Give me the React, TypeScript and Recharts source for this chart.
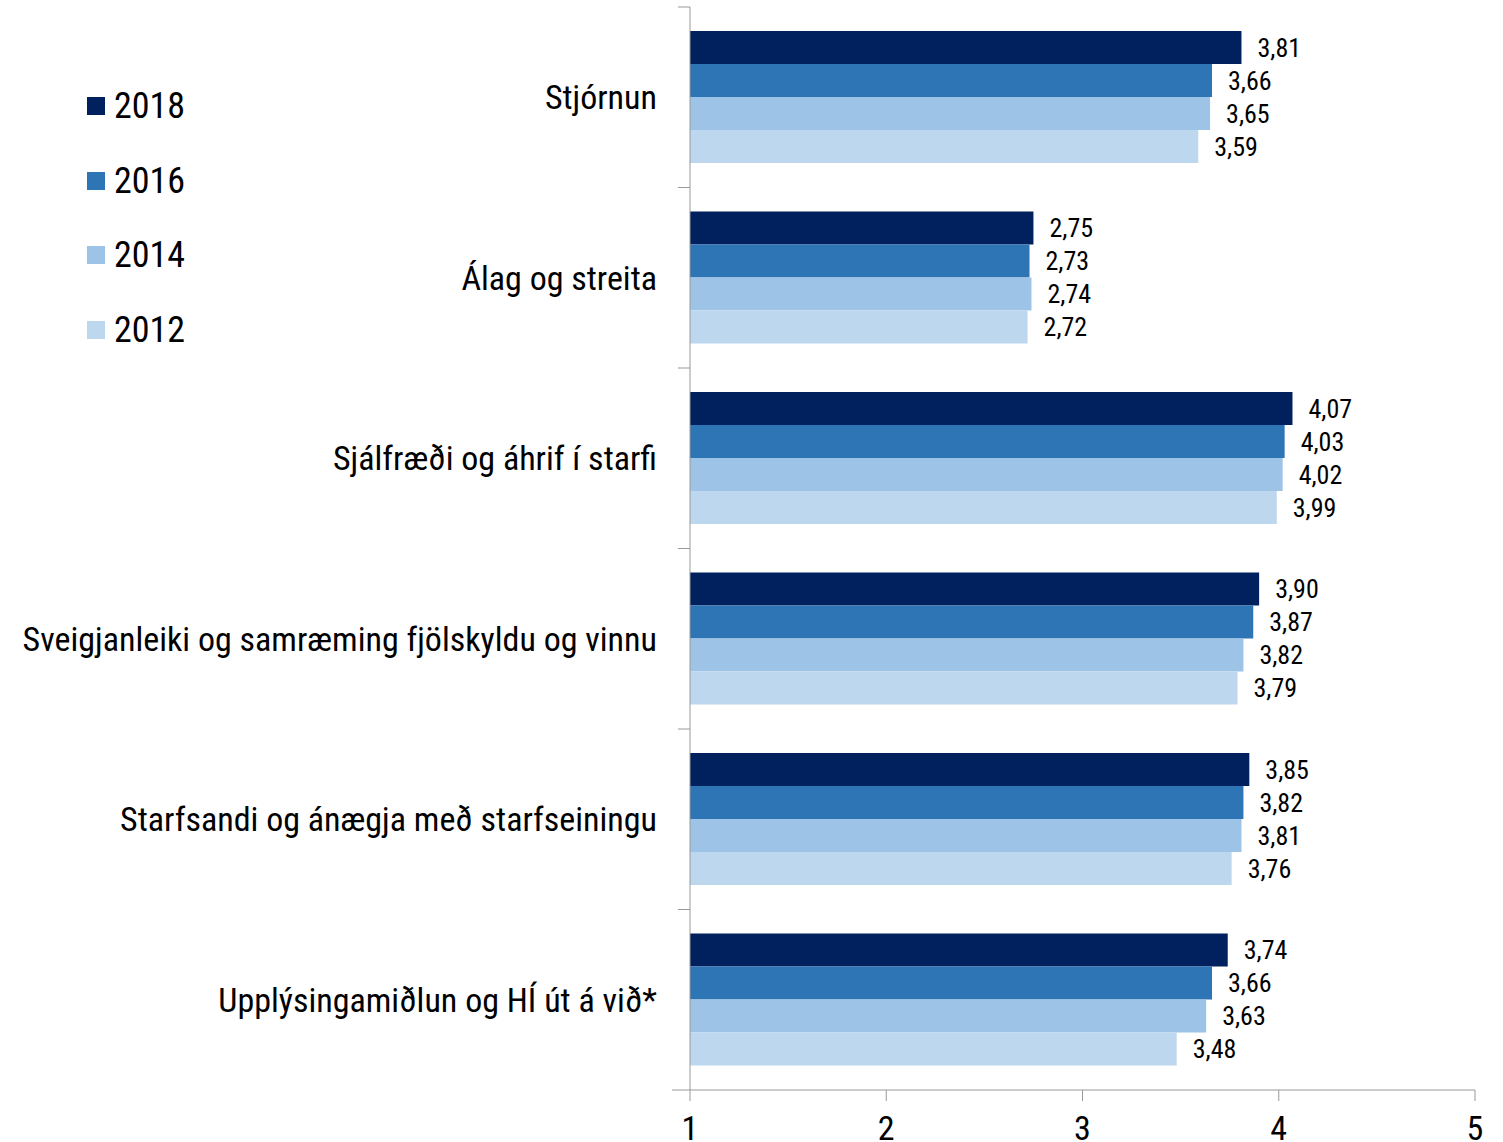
import { Bar, BarChart, LabelList, XAxis, YAxis } from "recharts"

const categories = [
  "Stjórnun",
  "Álag og streita",
  "Sjálfræði og áhrif í starfi",
  "Sveigjanleiki og samræming fjölskyldu og vinnu",
  "Starfsandi og ánægja með starfseiningu",
  "Upplýsingamiðlun og HÍ út á við*",
]

const v2018 = [3.81, 2.75, 4.07, 3.9, 3.85, 3.74]
const v2016 = [3.66, 2.73, 4.03, 3.87, 3.82, 3.66]
const v2014 = [3.65, 2.74, 4.02, 3.82, 3.81, 3.63]
const v2012 = [3.59, 2.72, 3.99, 3.79, 3.76, 3.48]

const xTicks = [1, 2, 3, 4, 5]

const series = [
  { key: "2018", color: "#00215E" },
  { key: "2016", color: "#2E75B6" },
  { key: "2014", color: "#9DC3E6" },
  { key: "2012", color: "#BDD7EE" },
]

const FONT = "'Liberation Sans Narrow', 'Arial Narrow', 'Roboto Condensed', sans-serif"
const W = 1503
const H = 1142
const MARGIN = { top: 7, right: 28, bottom: 0, left: 0 }
const X_AXIS_H = 52
const Y_AXIS_W = 690
const AXIS_COLOR = "#999999"

const chartData = categories.map((name, i) => ({
  name,
  "2018": v2018[i],
  "2016": v2016[i],
  "2014": v2014[i],
  "2012": v2012[i],
}))

const band = (H - MARGIN.top - MARGIN.bottom - X_AXIS_H) / categories.length

const fmt = (v: unknown) => Number(v).toFixed(2).replace(".", ",")

interface TickProps {
  x?: number
  y?: number
  index?: number
  payload?: { value: string }
}

// category label plus the boundary tick mark above its band
const CategoryTick = ({ x = 0, y = 0, index = 0, payload }: TickProps) => {
  const axisX = x + 33
  const last = index === categories.length - 1
  return (
    <g>
      <line x1={axisX - 12} x2={axisX} y1={y - band / 2} y2={y - band / 2} stroke={AXIS_COLOR} />
      {last && (
        <line x1={axisX - 18} x2={axisX} y1={y + band / 2} y2={y + band / 2} stroke={AXIS_COLOR} />
      )}
      <text x={x} y={y} textAnchor="end" dominantBaseline="central" fontSize={34} fill="#000" fontFamily={FONT}>
        {payload?.value}
      </text>
    </g>
  )
}

export default function App() {
  return (
    <div style={{ position: "absolute", left: 0, top: 0, width: W, height: H, background: "#fff", fontFamily: FONT }}>
      <BarChart
        width={W}
        height={H}
        data={chartData}
        layout="vertical"
        margin={MARGIN}
        barCategoryGap={24}
        barGap={0}
      >
        <XAxis
          type="number"
          domain={[1, 5]}
          ticks={xTicks}
          allowDataOverflow
          height={X_AXIS_H}
          tickSize={11}
          tickMargin={15}
          axisLine={{ stroke: AXIS_COLOR }}
          tickLine={{ stroke: AXIS_COLOR }}
          tick={{ fontSize: 34, fill: "#000", fontFamily: FONT }}
        />
        <YAxis
          type="category"
          dataKey="name"
          width={Y_AXIS_W}
          tickSize={0}
          tickMargin={33}
          tickLine={false}
          axisLine={{ stroke: AXIS_COLOR }}
          tick={<CategoryTick />}
          interval={0}
        />
        {series.map((s) => (
          <Bar key={s.key} dataKey={s.key} fill={s.color} isAnimationActive={false}>
            <LabelList
              dataKey={s.key}
              position="right"
              offset={16}
              formatter={fmt}
              style={{ fontSize: 26, fill: "#000", fontFamily: FONT }}
            />
          </Bar>
        ))}
      </BarChart>
      <div style={{ position: "absolute", left: 87, top: 69 }}>
        {series.map((s) => (
          <div key={s.key} style={{ display: "flex", alignItems: "center", height: 74.5 }}>
            <span style={{ width: 18, height: 18, background: s.color, marginRight: 9 }} />
            <span style={{ fontSize: 36, color: "#000", lineHeight: 1 }}>{s.key}</span>
          </div>
        ))}
      </div>
    </div>
  )
}
